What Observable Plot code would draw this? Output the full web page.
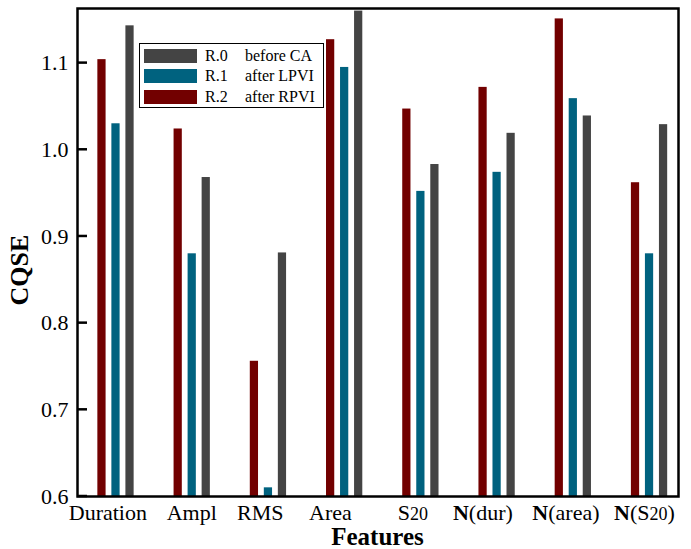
<!DOCTYPE html>
<html>
<head>
<meta charset="utf-8">
<script src="https://cdn.jsdelivr.net/npm/d3@7"></script>
<script src="https://cdn.jsdelivr.net/npm/@observablehq/plot@0.6"></script>
<style>
  body { margin: 0; background: #fff; }
  #wrap { position: relative; width: 691px; height: 549px; font-family: "Liberation Serif", "Times New Roman", serif; }
  #legend { position: absolute; left: 139px; top: 43px; width: 185px; height: 65px; border: 1px solid #000; background: #fff; box-sizing: border-box; font-size: 16px; color: #000; }
  .sw { position: absolute; left: 4px; width: 53px; height: 14px; }
  .lk { position: absolute; left: 65px; line-height: 16px; }
  .ld { position: absolute; left: 105px; line-height: 16px; white-space: nowrap; }
</style>
</head>
<body>
<div id="wrap"></div>
<script>
// ---- data ----
const features = ["Duration", "Ampl", "RMS", "Area", "S20", "N(dur)", "N(area)", "N(S20)"];
const seriesKeys = ["R.0", "R.1", "R.2"];
const seriesDesc = ["before CA", "after LPVI", "after RPVI"];
const seriesColors = ["#444444", "#00627f", "#720000"];
const r0 = [1.143, 0.968, 0.881, 1.160, 0.983, 1.019, 1.039, 1.029];
const r1 = [1.030, 0.880, 0.610, 1.095, 0.952, 0.974, 1.059, 0.880];
const r2 = [1.104, 1.024, 0.756, 1.127, 1.047, 1.072, 1.151, 0.962];
const yTicks = [0.6, 0.7, 0.8, 0.9, 1.0, 1.1];

// ---- layout ----
const yMin = 0.6, yMax = 1.163;
const xDomain = [-0.505, 7.38];
const slotOf = {"R.2": -1, "R.1": 0, "R.0": 1};
const slotStep = 0.184, barW = 0.108;
const labelShift = [-0.1, 0, -0.1, -0.18, -0.1, -0.18, -0.09, -0.06];

const valuesBySeries = {"R.0": r0, "R.1": r1, "R.2": r2};
const bars = [];
features.forEach((f, i) => {
  ["R.2", "R.1", "R.0"].forEach(s => bars.push({i, feature: f, series: s, value: valuesBySeries[s][i]}));
});

const plot = Plot.plot({
  width: 691,
  height: 549,
  marginLeft: 77,
  marginRight: 13,
  marginTop: 8,
  marginBottom: 53,
  x: {domain: xDomain, axis: null},
  y: {domain: [yMin, yMax], axis: null},
  color: {domain: seriesKeys, range: seriesColors},
  style: {fontFamily: "Liberation Serif, Times New Roman, serif", fontSize: "22px", background: "#fff", color: "#000", overflow: "visible"},
  marks: [
    Plot.rectY(bars, {
      x1: d => d.i + slotOf[d.series] * slotStep - barW / 2,
      x2: d => d.i + slotOf[d.series] * slotStep + barW / 2,
      y1: yMin,
      y2: "value",
      fill: "series"
    }),
    Plot.axisY(yTicks, {tickSize: 0, tickPadding: 9, tickFormat: d3.format(".1f"), fontSize: 22, label: null}),
    Plot.frame({stroke: "#000", strokeWidth: 2.5})
  ]
});

const svg = d3.select(plot);
const xs = plot.scale("x"), ys = plot.scale("y");
const base = ys.apply(yMin);
const left = xs.apply(xDomain[0]);

// inward y ticks, positioned with the plot's y scale
svg.append("g").attr("class", "inward-ticks")
  .selectAll("line").data(yTicks).join("line")
  .attr("x1", left).attr("x2", left + 10)
  .attr("y1", d => ys.apply(d)).attr("y2", d => ys.apply(d))
  .attr("stroke", "#000").attr("stroke-width", 2.5);

features.forEach((f, i) => {
  const t = svg.append("text")
    .attr("x", xs.apply(i + labelShift[i]))
    .attr("y", base + 24)
    .attr("text-anchor", "middle")
    .attr("font-size", 22)
    .attr("fill", "#000");
  const m = f.match(/^(N)(\()(.*)(\))$/);
  const parts = [];
  let inner = f;
  if (m) { parts.push({t: "N", bold: true}); parts.push({t: "("}); inner = m[3]; }
  inner.split(/(20)/).filter(s => s.length).forEach(s => parts.push({t: s, small: s === "20"}));
  if (m) parts.push({t: ")"});
  parts.forEach(p => {
    const ts = t.append("tspan").text(p.t);
    if (p.bold) ts.attr("font-weight", "bold");
    if (p.small) ts.attr("font-size", 18);
  });
});

svg.append("text")
  .attr("x", (xs.apply(xDomain[0]) + xs.apply(xDomain[1])) / 2)
  .attr("y", base + 49)
  .attr("text-anchor", "middle")
  .attr("font-size", 25)
  .attr("font-weight", "bold")
  .attr("fill", "#000")
  .text("Features");

svg.append("text")
  .attr("transform", `translate(28,${(ys.apply(yMin) + ys.apply(yMax)) / 2 + 18}) rotate(-90)`)
  .attr("text-anchor", "middle")
  .attr("font-size", 26)
  .attr("font-weight", "bold")
  .attr("fill", "#000")
  .text("CQSE");

const wrap = document.getElementById("wrap");
wrap.appendChild(plot);

const legend = document.createElement("div");
legend.id = "legend";
const rowTop = [12, 32, 53];
seriesKeys.forEach((k, j) => {
  const sw = document.createElement("div");
  sw.className = "sw";
  sw.style.top = (rowTop[j] - 7) + "px";
  sw.style.background = seriesColors[j];
  legend.appendChild(sw);
  const lk = document.createElement("div");
  lk.className = "lk";
  lk.style.top = (rowTop[j] - 8) + "px";
  lk.textContent = k;
  legend.appendChild(lk);
  const ld = document.createElement("div");
  ld.className = "ld";
  ld.style.top = (rowTop[j] - 8) + "px";
  ld.textContent = seriesDesc[j];
  legend.appendChild(ld);
});
wrap.appendChild(legend);
</script>
</body>
</html>
